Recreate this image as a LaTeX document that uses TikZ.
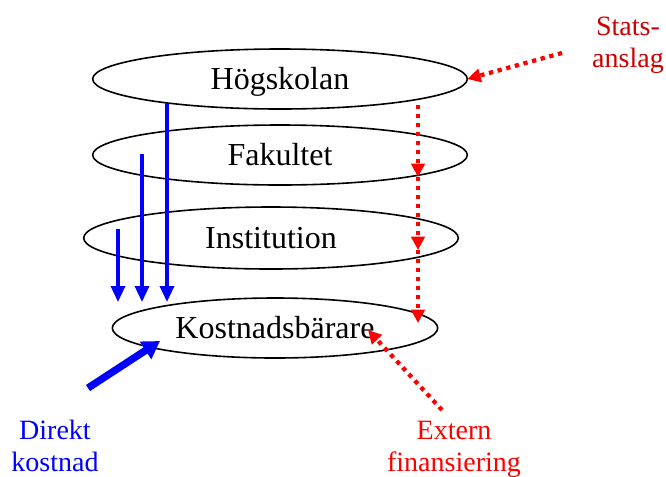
\documentclass[tikz,border=0pt]{standalone}
\usepackage{fontspec}
\setmainfont{Liberation Serif}
\usetikzlibrary{arrows.meta, positioning, shapes.geometric}
\definecolor{statsred}{RGB}{204,0,0}

\begin{document}
\begin{tikzpicture}[
  x=0.75pt, y=-0.75pt,
  level/.style={draw, ellipse, line width=1.2pt, minimum width=281pt, minimum height=45pt,
    inner sep=0pt, outer sep=0pt, text height=18pt, text depth=2pt,
    font=\fontsize{24}{28}\selectfont},
  lbl/.style={align=center, font=\fontsize{21}{24}\selectfont},
  cost/.style={-{Triangle[length=12pt, width=10.5pt]}, blue, line width=2.5pt},
  bigcost/.style={-{Triangle[length=13pt, width=15pt]}, blue, line width=5.5pt},
  fund/.style={-{Triangle[length=10pt, width=10pt]}, red, line width=3.2pt, dash pattern=on 3.2pt off 3.5pt}
]
\useasboundingbox (0,0) rectangle (666,476);

% levels
\node[level] (hog) at (280,79) {Högskolan};
\node[level, below=12pt of hog] (fak) {Fakultet};
\node[level, below=16.5pt of fak, xshift=-6.75pt, minimum height=46.5pt] (inst) {Institution};
\node[level, below=21.75pt of inst, xshift=3pt, minimum width=244pt] (kost) {Kostnadsbärare};

% labels
\node[lbl, text=statsred] (stats) at (628,45) {Stats-\\anslag};
\node[lbl, text=blue] (direkt) at (55,446) {Direkt\\kostnad};
\node[lbl, text=red] (extern) at (454,449) {Extern\\finansiering};

% indirect costs down to the cost object
\coordinate (top1) at (167,103);
\coordinate (top2) at (142,154);
\coordinate (top3) at (118,229);
\coordinate (tip1) at (167,302);
\coordinate (tip2) at (142,302);
\coordinate (tip3) at (118,302);
\draw[cost] (top1) -- (tip1);
\draw[cost] (top2) -- (tip2);
\draw[cost] (top3) -- (tip3);

% direct cost
\coordinate (dkStart) at (88,388);
\coordinate (dkTip) at (160,341);
\draw[bigcost] (dkStart) -- (dkTip);

% funding
\coordinate (f0) at (418,105);
\coordinate (f1) at (418,177);
\coordinate (f2) at (418,250);
\coordinate (f3) at (418,323);
\draw[fund] (f0) -- (f1);
\draw[fund] (f1) -- (f2);
\draw[fund] (f2) -- (f3);

\coordinate (saStart) at (562,53);
\draw[fund] (saStart) -- (hog.east);

\coordinate (efStart) at (442,410);
\coordinate (efTip) at (368,330);
\draw[fund] (efStart) -- (efTip);
\end{tikzpicture}
\end{document}
